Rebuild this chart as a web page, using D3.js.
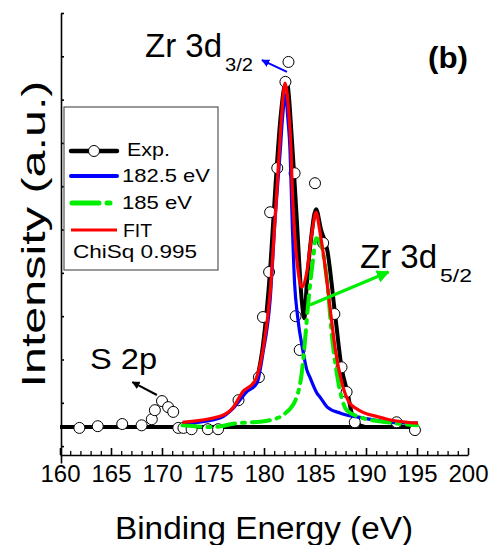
<!DOCTYPE html>
<html>
<head>
<meta charset="utf-8">
<script src="https://cdn.jsdelivr.net/npm/d3@7/dist/d3.min.js"></script>
<style>
  html, body { margin: 0; padding: 0; background: #fff; }
  svg { display: block; }
  text { font-family: "Liberation Sans", Arial, sans-serif; fill: #000; }
</style>
</head>
<body>
<svg id="chart" width="491" height="545"></svg>
<script>
// Zr 3d / S 2p XPS spectrum with two-component peak fit

// measured points (binding energy, intensity a.u.)
const expEnergy = [161.9, 163.7, 166.1, 168.0, 169.0, 169.3, 170.0, 170.6, 171.1, 171.6, 172.1, 172.9,
  174.5, 175.5, 177.5, 179.5, 179.9, 180.5, 180.6, 181.3, 182.1, 182.4, 183.0, 183.1, 183.5,
  185.0, 185.8, 186.9, 187.6, 188.1, 188.9, 193.0, 194.8];
const expIntensity = [0.42, 0.46, 0.51, 0.48, 0.62, 0.83, 1.04, 0.90, 0.79, 0.42, 0.42, 0.39,
  0.39, 0.39, 1.06, 1.59, 2.98, 4.02, 5.40, 6.42, 8.41, 8.87, 6.30, 3.00, 2.22,
  6.07, 4.69, 3.05, 1.82, 1.25, 0.55, 0.55, 0.37];

// experimental trace over the Zr 3d doublet
const traceEnergy = [179.3, 179.9, 180.6, 181.1, 181.6, 182.2, 182.8, 183.2, 183.7, 183.95,
  184.2, 184.6, 185.1, 185.6, 186.2, 187.0, 187.6, 188.2, 188.6, 189.1, 189.9];
const traceIntensity = [1.52, 2.33, 4.06, 5.91, 7.53, 8.45, 6.84, 5.29, 3.37, 2.95,
  3.76, 4.76, 5.47, 4.99, 4.53, 2.98, 1.82, 1.22, 0.76, 0.53, 0.44];

// flat background level
const baseEnergy = [160, 195];
const baseIntensity = [0.44, 0.44];

// component centred near 182.5 eV
const peakAEnergy = [172.0, 175.7, 177.0, 178.3, 179.3, 179.9, 180.6, 181.1, 181.6, 181.8, 182.1, 182.35,
  182.55, 182.75, 183.0, 183.3, 183.8, 184.2, 184.5, 185.2, 185.5, 186.2, 187.5, 189.7, 192.4, 195.1];
const peakAIntensity = [0.51, 0.65, 0.88, 1.25, 1.45, 2.15, 3.37, 5.29, 6.84, 7.53, 8.11, 7.53,
  6.84, 5.29, 3.76, 2.98, 2.22, 1.76, 1.59, 1.22, 1.13, 0.90, 0.76, 0.65, 0.55, 0.53];

// component centred near 185 eV
const peakBEnergy = [172.0, 175.0, 177.4, 178.9, 180.6, 182.1, 183.2, 183.7, 184.0, 184.3, 184.8, 185.1,
  185.4, 185.8, 186.2, 186.7, 187.2, 188.1, 189.4, 192.1, 195.0];
const peakBIntensity = [0.48, 0.44, 0.53, 0.55, 0.60, 0.76, 1.13, 1.69, 2.38, 3.21, 4.30, 4.80,
  4.76, 4.45, 3.76, 2.45, 1.59, 0.83, 0.67, 0.55, 0.48];

// summed fit
const fitEnergy = [172.0, 175.7, 177.0, 177.9, 179.1, 179.9, 180.6, 181.1, 181.4, 181.7, 182.06, 182.45,
  182.65, 182.75, 183.0, 183.3, 183.7, 184.2, 184.7, 185.1, 185.5, 186.0, 186.5, 187.0, 187.65,
  188.4, 189.1, 189.7, 191.1, 192.1, 193.0, 195.1];
const fitIntensity = [0.55, 0.69, 0.90, 1.25, 1.50, 2.22, 3.53, 5.29, 6.44, 7.53, 8.38, 7.64,
  6.84, 6.07, 4.92, 4.13, 3.67, 4.02, 4.92, 5.40, 4.92, 4.13, 3.14, 2.22, 1.45,
  0.99, 0.86, 0.78, 0.68, 0.62, 0.58, 0.53];

const xTicks = [160, 165, 170, 175, 180, 185, 190, 195, 200];
const xMinor = d3.range(160, 201, 1).filter(v => v % 5 !== 0);
const yTicks = d3.range(0, 11, 1);

const legendLabels = ["Exp.", "182.5 eV", "185 eV", "FIT"];
const chiSqLabel = "ChiSq 0.995";

const svg = d3.select("#chart");

const x = d3.scaleLinear().domain([160, 200]).range([60, 468]);
const y = d3.scaleLinear().domain([-0.39, 10]).range([463, 13]);

// axes
const axY = svg.append("g").attr("transform", "translate(61,0)")
  .call(d3.axisRight(y).tickValues(yTicks).tickSize(3).tickSizeOuter(0).tickFormat(""));
axY.selectAll("path, line").attr("stroke", "#000").attr("stroke-width", 1.6);

const axX = svg.append("g").attr("transform", "translate(0,455)")
  .call(d3.axisTop(x).tickValues(xTicks).tickSize(7).tickSizeOuter(0).tickFormat(""));
axX.selectAll("path, line").attr("stroke", "#000").attr("stroke-width", 1.6);

const axXm = svg.append("g").attr("transform", "translate(0,455)")
  .call(d3.axisTop(x).tickValues(xMinor).tickSize(4).tickSizeOuter(0).tickFormat(""));
axXm.select(".domain").remove();
axXm.selectAll("line").attr("stroke", "#000").attr("stroke-width", 1.3);

const axXl = svg.append("g").attr("transform", "translate(0,455)")
  .call(d3.axisBottom(x).tickValues(xTicks).tickSize(0).tickPadding(10).tickFormat(d3.format("d")));
axXl.select(".domain").remove();
axXl.selectAll("text").attr("font-size", 24).attr("fill", "#000")
  .style("font-family", "'Liberation Sans', Arial, sans-serif");

// axis titles
svg.append("text").attr("x", 264).attr("y", 539).attr("text-anchor", "middle")
  .attr("font-size", 31).attr("textLength", 298).attr("lengthAdjust", "spacingAndGlyphs")
  .text("Binding Energy (eV)");
svg.append("text").attr("transform", "translate(45,234) rotate(-90)").attr("text-anchor", "middle")
  .attr("font-size", 33).attr("textLength", 307).attr("lengthAdjust", "spacingAndGlyphs")
  .text("Intensity (a.u.)");

const zip = (xs, ys) => xs.map((v, i) => [v, ys[i]]);
const line = d3.line().x(d => x(d[0])).y(d => y(d[1])).curve(d3.curveMonotoneX);
const straight = d3.line().x(d => x(d[0])).y(d => y(d[1]));

// experimental: background line + trace
svg.append("path").attr("d", straight(zip(baseEnergy, baseIntensity)))
  .attr("fill", "none").attr("stroke", "#000").attr("stroke-width", 4);
svg.append("path").attr("d", line(zip(traceEnergy, traceIntensity)))
  .attr("fill", "none").attr("stroke", "#000").attr("stroke-width", 4).attr("stroke-linejoin", "round");

// measured points
svg.append("g").selectAll("circle").data(zip(expEnergy, expIntensity)).join("circle")
  .attr("cx", d => x(d[0])).attr("cy", d => y(d[1])).attr("r", 5.5)
  .attr("fill", "#fff").attr("stroke", "#000").attr("stroke-width", 1);

// fit components
svg.append("path").attr("d", line(zip(peakAEnergy, peakAIntensity)))
  .attr("fill", "none").attr("stroke", "#0000ff").attr("stroke-width", 3.2);
svg.append("path").attr("d", line(zip(peakBEnergy, peakBIntensity)))
  .attr("fill", "none").attr("stroke", "#00ee00").attr("stroke-width", 4)
  .attr("stroke-dasharray", "18,7,3,7").attr("stroke-linecap", "round");
svg.append("path").attr("d", line(zip(fitEnergy, fitIntensity)))
  .attr("fill", "none").attr("stroke", "#ff0000").attr("stroke-width", 3.2);

// arrow heads
const defs = svg.append("defs");
function marker(id, color) {
  defs.append("marker").attr("id", id).attr("viewBox", "0 0 10 10")
    .attr("refX", 9).attr("refY", 5).attr("markerWidth", 4).attr("markerHeight", 4)
    .attr("markerUnits", "strokeWidth").attr("orient", "auto")
    .append("path").attr("d", "M0,0 L10,5 L0,10 Z").attr("fill", color);
}
marker("headBlue", "#0000ff");
marker("headBlack", "#000");
marker("headGreen", "#00ee00");

function arrow(from, to, color, width, head) {
  svg.append("line")
    .attr("x1", x(from[0])).attr("y1", y(from[1]))
    .attr("x2", x(to[0])).attr("y2", y(to[1]))
    .attr("stroke", color).attr("stroke-width", width)
    .attr("marker-end", `url(#${head})`);
}
arrow([182.25, 8.64], [179.8, 8.91], "#0000ff", 2, "headBlue");
arrow([169.5, 1.18], [167.1, 1.48], "#000", 2, "headBlack");
arrow([184.5, 3.26], [192.2, 4.02], "#00ee00", 3.2, "headGreen");

// peak labels
function peakLabel(px, py, w, sub, sw) {
  svg.append("text").attr("x", px).attr("y", py).attr("font-size", 34)
    .attr("textLength", w).attr("lengthAdjust", "spacingAndGlyphs").text("Zr 3d");
  svg.append("text").attr("x", px + w + 3).attr("y", py + 14).attr("font-size", 19)
    .attr("textLength", sw).attr("lengthAdjust", "spacingAndGlyphs").text(sub);
}
peakLabel(145, 57, 77, "3/2", 28);
peakLabel(360, 268, 77, "5/2", 32);

svg.append("text").attr("x", 90).attr("y", 369).attr("font-size", 30)
  .attr("textLength", 67).attr("lengthAdjust", "spacingAndGlyphs").text("S 2p");

svg.append("text").attr("x", 428).attr("y", 68).attr("font-size", 29).attr("font-weight", "bold")
  .attr("textLength", 40).attr("lengthAdjust", "spacingAndGlyphs").text("(b)");

// legend
const lg = svg.append("g");
lg.append("rect").attr("x", 64).attr("y", 107).attr("width", 154).attr("height", 163)
  .attr("fill", "#fff").attr("stroke", "#555").attr("stroke-width", 1.2);
const rowY = [151, 176, 203, 230];
const textBase = [156, 182, 209, 237];
const textX = [127, 122, 122, 123];
const textW = [43, 88, 70, 29];
lg.append("line").attr("x1", 71).attr("x2", 117).attr("y1", rowY[0]).attr("y2", rowY[0])
  .attr("stroke", "#000").attr("stroke-width", 4.5).attr("stroke-linecap", "round");
lg.append("circle").attr("cx", 94).attr("cy", rowY[0]).attr("r", 5.5)
  .attr("fill", "#fff").attr("stroke", "#000");
lg.append("line").attr("x1", 71).attr("x2", 117).attr("y1", rowY[1]).attr("y2", rowY[1])
  .attr("stroke", "#0000ff").attr("stroke-width", 4).attr("stroke-linecap", "round");
lg.append("line").attr("x1", 72).attr("x2", 110).attr("y1", rowY[2]).attr("y2", rowY[2])
  .attr("stroke", "#00ee00").attr("stroke-width", 5).attr("stroke-linecap", "round")
  .attr("stroke-dasharray", "27,8,3,20");
lg.append("line").attr("x1", 71).attr("x2", 117).attr("y1", rowY[3]).attr("y2", rowY[3])
  .attr("stroke", "#ff0000").attr("stroke-width", 3);
legendLabels.forEach((t, i) => {
  lg.append("text").attr("x", textX[i]).attr("y", textBase[i]).attr("font-size", 19)
    .attr("textLength", textW[i]).attr("lengthAdjust", "spacingAndGlyphs").text(t);
});
lg.append("text").attr("x", 73).attr("y", 258).attr("font-size", 18)
  .attr("textLength", 124).attr("lengthAdjust", "spacingAndGlyphs").text(chiSqLabel);
</script>
</body>
</html>
